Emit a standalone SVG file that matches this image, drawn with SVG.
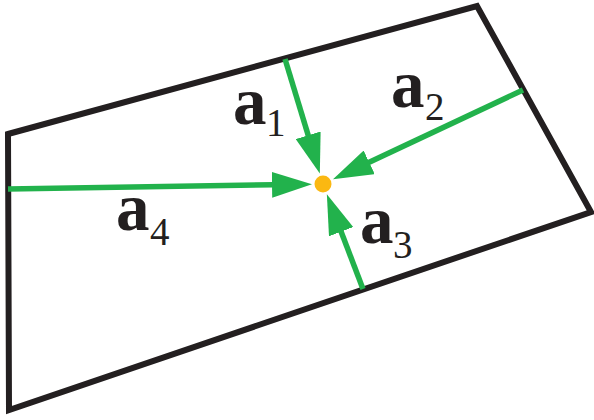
<svg xmlns="http://www.w3.org/2000/svg" width="594" height="420" viewBox="0 0 594 420">
<style>
.edge{fill:none;stroke:#231f20;stroke-width:6;stroke-linejoin:miter}
.vec{stroke:#22b24c;stroke-width:5.5;fill:none;marker-end:url(#ah)}
.v{font-family:"Liberation Serif",serif;font-weight:bold;font-size:67px;fill:#231f20}
.s{font-family:"Liberation Serif",serif;font-size:39px;fill:#231f20}
</style>
<defs>
<marker id="ah" markerUnits="userSpaceOnUse" markerWidth="40" markerHeight="26" viewBox="0 0 40 26" refX="20" refY="13" orient="auto">
<path d="M0,0 L40,13 L0,26 z" fill="#22b24c"/>
</marker>
</defs>
<g id="quad"><polygon class="edge" points="8,134 477,6 591,212 9,410"/></g>
<g id="connectors">
<line class="vec" x1="285" y1="59" x2="314" y2="154.4"/>
<line class="vec" x1="523" y1="90" x2="351.1" y2="170.8"/>
<line class="vec" x1="363" y1="289" x2="334" y2="213"/>
<line class="vec" x1="8" y1="189" x2="292" y2="184.5"/>
</g>
<g id="point"><circle cx="323" cy="184" r="8.5" fill="#fbb812"/></g>
<g id="label-a1"><text class="v" x="233" y="124">a</text><text class="s" x="266" y="136">1</text></g>
<g id="label-a2"><text class="v" x="391" y="107">a</text><text class="s" x="425" y="120">2</text></g>
<g id="label-a3"><text class="v" x="360" y="243">a</text><text class="s" x="393" y="258">3</text></g>
<g id="label-a4"><text class="v" x="116" y="230">a</text><text class="s" x="150" y="245">4</text></g>
</svg>
